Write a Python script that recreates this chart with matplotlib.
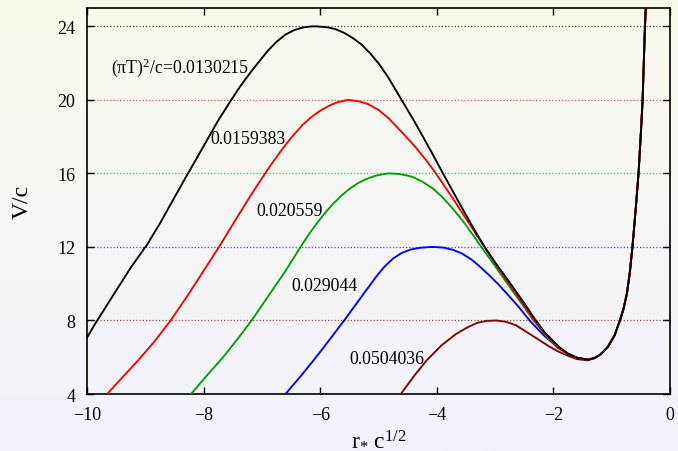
import numpy as np
import matplotlib
matplotlib.use("Agg")
import matplotlib.pyplot as plt

plt.rcParams['font.family'] = ['Liberation Serif', 'DejaVu Serif']
plt.rcParams['mathtext.fontset'] = 'custom'
plt.rcParams['mathtext.rm'] = 'Liberation Serif'
plt.rcParams['mathtext.it'] = 'Liberation Serif'

# shared right branch (all five curves lie on top of each other there)
x_right = [-1.30, -1.20, -1.07, -0.95, -0.86, -0.80, -0.74, -0.69, -0.645, -0.59,
           -0.54, -0.50, -0.47, -0.45, -0.43, -0.415]
y_right = [5.95, 6.13, 6.55, 7.2, 8.0, 8.6, 9.46, 10.6, 12.0, 14.0,
           16.0, 18.2, 20.0, 22.0, 24.0, 25.0]

x_black = [-10.0, -9.87, -9.70, -9.50, -9.25, -8.98, -8.75, -8.53, -8.30, -8.10,
           -7.93, -7.75, -7.55, -7.38, -7.21, -7.05, -6.90, -6.75, -6.60, -6.45,
           -6.30, -6.15, -6.07, -5.90, -5.75, -5.60, -5.45, -5.30, -5.15, -5.00,
           -4.85, -4.70, -4.55, -4.40, -4.24, -4.04, -3.90, -3.70, -3.50, -3.36,
           -3.18, -3.00, -2.80, -2.60, -2.45, -2.33, -2.15, -1.90, -1.75, -1.60,
           -1.41] + x_right
y_black = [7.1, 7.8, 8.65, 9.65, 10.9, 12.1, 13.3, 14.55, 15.85, 16.95,
           17.9, 18.9, 19.9, 20.72, 21.45, 22.1, 22.68, 23.17, 23.55, 23.8,
           23.94, 24.0, 24.0, 23.96, 23.86, 23.66, 23.38, 23.03, 22.55, 21.98,
           21.3, 20.5, 19.7, 18.9, 18.0, 16.85, 16.02, 14.87, 13.73, 12.95,
           12.0, 11.15, 10.28, 9.38, 8.7, 8.12, 7.35, 6.55, 6.2, 5.98,
           5.87] + y_right

x_red = [-9.66, -9.40, -9.13, -8.85, -8.57, -8.28, -8.00, -7.75, -7.48, -7.20,
         -6.98, -6.82, -6.66, -6.50, -6.30, -6.15, -6.00, -5.84, -5.70, -5.53,
         -5.35, -5.18, -5.00, -4.83, -4.68, -4.53, -4.36, -4.18, -4.04, -3.90,
         -3.74, -3.55, -3.38, -3.20, -3.02, -2.83, -2.60, -2.35, -2.15, -1.92,
         -1.75, -1.60, -1.41] + x_right
y_red = [4.0, 4.9, 5.82, 6.85, 8.0, 9.35, 10.72, 11.95, 13.35, 14.78,
         15.85, 16.6, 17.3, 17.95, 18.66, 19.08, 19.42, 19.7, 19.88, 20.0,
         19.93, 19.77, 19.45, 19.0, 18.5, 18.0, 17.4, 16.7, 16.1, 15.45,
         14.7, 13.78, 12.95, 12.07, 11.2, 10.3, 9.25, 8.1, 7.3, 6.52,
         6.18, 5.98, 5.87] + y_right

x_green = [-8.22, -7.95, -7.67, -7.42, -7.18, -6.90, -6.61, -6.34, -6.20, -6.07,
           -5.92, -5.78, -5.64, -5.50, -5.35, -5.21, -5.05, -4.90, -4.82, -4.65,
           -4.50, -4.41, -4.25, -4.07, -3.92, -3.78, -3.64, -3.50, -3.37, -3.25,
           -3.10, -2.90, -2.70, -2.52, -2.36, -2.15, -1.92, -1.75, -1.60, -1.41] + x_right
y_green = [4.0, 5.0, 6.0, 7.0, 8.0, 9.3, 10.64, 12.0, 12.68, 13.25,
           13.85, 14.35, 14.79, 15.16, 15.48, 15.7, 15.88, 15.97, 16.0, 15.97,
           15.88, 15.8, 15.55, 15.18, 14.75, 14.27, 13.75, 13.18, 12.6, 12.05,
           11.4, 10.5, 9.6, 8.8, 8.08, 7.25, 6.5, 6.17, 5.97, 5.87] + y_right

x_blue = [-6.60, -6.33, -6.05, -5.82, -5.58, -5.27, -5.05, -4.90, -4.75, -4.60,
          -4.45, -4.30, -4.15, -4.04, -3.88, -3.72, -3.57, -3.40, -3.27, -3.10,
          -2.95, -2.80, -2.60, -2.41, -2.17, -1.93, -1.75, -1.60, -1.41] + x_right
y_blue = [4.0, 5.0, 6.1, 7.05, 8.05, 9.4, 10.35, 10.93, 11.38, 11.68,
          11.86, 11.95, 11.99, 12.0, 11.96, 11.84, 11.64, 11.3, 10.95, 10.45,
          9.98, 9.46, 8.75, 8.0, 7.2, 6.55, 6.17, 5.97, 5.86] + y_right

x_maroon = [-4.62, -4.40, -4.18, -3.92, -3.67, -3.48, -3.30, -3.14, -2.98, -2.82,
            -2.65, -2.50, -2.30, -2.10, -1.93, -1.76, -1.60, -1.41] + x_right
y_maroon = [4.0, 4.95, 5.82, 6.65, 7.27, 7.62, 7.88, 7.98, 8.0, 7.93,
            7.75, 7.45, 7.05, 6.64, 6.33, 6.09, 5.9, 5.83] + y_right

peaks = [24, 20, 16, 12, 8]
colors = ['black', '#ff0000', '#00a000', '#0000ff', '#800000']
labels = [r'(πT)$^{2}$/c=0.0130215', '0.0159383', '0.020559', '0.029044', '0.0504036']
label_x = [-9.6, -7.88, -7.10, -6.50, -5.50]
label_y = [21.8, 17.9, 14.0, 9.9, 5.95]

curves = [(x_black, y_black), (x_red, y_red), (x_green, y_green),
          (x_blue, y_blue), (x_maroon, y_maroon)]

fig = plt.figure(figsize=(6.78, 4.52), dpi=100)

# background gradient: cream at top, lavender at bottom
bg = fig.add_axes([0, 0, 1, 1], zorder=-10)
top = np.array([250, 250, 238]) / 255
bot = np.array([242, 242, 252]) / 255
t = np.linspace(0, 1, 256)[:, None]
grad = (top * (1 - t) + bot * t)[:, None, :]
bg.imshow(grad, aspect='auto', extent=[0, 1, 0, 1])
bg.axis('off')

ax = fig.add_axes([0.1288, 0.1261, 0.8594, 0.854])
ax.set_facecolor('none')

for p, c in zip(peaks, colors):
    ax.axhline(p, color=c, ls=(0, (1.0, 1.6)), lw=0.9, alpha=0.7, zorder=1)

# draw maroon first so black ends up on top
for (xs, ys), c in reversed(list(zip(curves, colors))):
    ax.plot(xs, ys, color=c, lw=1.35, zorder=3, solid_joinstyle='round')

for lx, ly, s in zip(label_x, label_y, labels):
    ax.text(lx, ly, s, fontsize=12.8, ha='left', va='center', zorder=4)

ax.set_xlim(-10, 0)
ax.set_ylim(4, 25)
ax.set_xticks([-10, -8, -6, -4, -2, 0])
ax.set_xticklabels(['\u221210', '\u22128', '\u22126', '\u22124', '\u22122', '0'])
ax.set_yticks([4, 8, 12, 16, 20, 24])
ax.tick_params(direction='in', top=True, right=True, length=5, width=1,
               labelsize=13, pad=8.5)
for s in ax.spines.values():
    s.set_linewidth(1.2)

ax.set_xlabel(r'r$_{*}$ c$^{1/2}$', fontsize=17, labelpad=4)
ax.set_ylabel('V/c', fontsize=17, labelpad=18)

fig.savefig('out.png', dpi=100)
